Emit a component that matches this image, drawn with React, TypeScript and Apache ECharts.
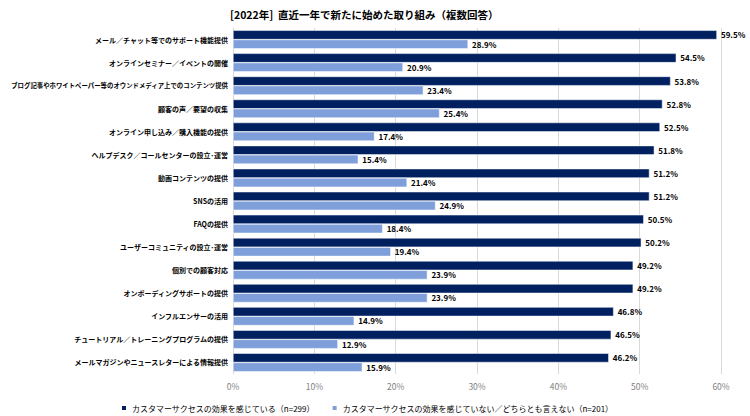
import React, { useEffect, useRef } from "react";
import * as echarts from "echarts";

const categories = [
  "メール／チャット等でのサポート機能提供",
  "オンラインセミナー／イベントの開催",
  "ブログ記事やホワイトペーパー等のオウンドメディア上でのコンテンツ提供",
  "顧客の声／要望の収集",
  "オンライン申し込み／購入機能の提供",
  "ヘルプデスク／コールセンターの設立･運営",
  "動画コンテンツの提供",
  "SNSの活用",
  "FAQの提供",
  "ユーザーコミュニティの設立･運営",
  "個別での顧客対応",
  "オンボーディングサポートの提供",
  "インフルエンサーの活用",
  "チュートリアル／トレーニングプログラムの提供",
  "メールマガジンやニュースレターによる情報提供",
];
const seriesNames = [
  "カスタマーサクセスの効果を感じている（n=299）",
  "カスタマーサクセスの効果を感じていない／どちらとも言えない（n=201）",
];
const feelValues = [59.5, 54.5, 53.8, 52.8, 52.5, 51.8, 51.2, 51.2, 50.5, 50.2, 49.2, 49.2, 46.8, 46.5, 46.2];
const notFeelValues = [28.9, 20.9, 23.4, 25.4, 17.4, 15.4, 21.4, 24.9, 18.4, 19.4, 23.9, 23.9, 14.9, 12.9, 15.9];
const titleText = "[2022年]  直近一年で新たに始めた取り組み（複数回答）";

const FONT = "'Noto Sans CJK JP', 'Noto Sans', sans-serif";

export default function App() {
  const ref = useRef<HTMLDivElement>(null);
  useEffect(() => {
    if (!ref.current) return;
    const chart = echarts.init(ref.current, undefined, { renderer: "svg" });
    const labelStyle = {
      show: true,
      position: "right" as const,
      formatter: (p: any) => p.value.toFixed(1) + "%",
      color: "#000",
      fontSize: 8,
      fontWeight: "bold" as const,
      fontFamily: FONT,
      distance: 4,
    };
    const catData = categories.map((c) =>
      c.length > 25 ? { value: c, textStyle: { fontSize: 6.4 } } : c
    );
    chart.setOption({
      animation: false,
      textStyle: { fontFamily: FONT },
      title: {
        text: titleText,
        left: 225,
        top: 4,
        textStyle: { fontSize: 10.5, fontWeight: "bold", color: "#000", fontFamily: FONT },
      },
      legend: {
        top: 404,
        left: 120,
        itemWidth: 6,
        itemHeight: 6,
        itemGap: 16,
        icon: "rect",
        padding: 0,
        textStyle: { fontSize: 8, color: "#000", fontFamily: FONT },
        data: seriesNames,
      },
      grid: { left: 233, right: 29, top: 28, bottom: 42, containLabel: false, outerBoundsMode: "none" },
      xAxis: {
        type: "value",
        min: 0,
        max: 60,
        interval: 10,
        axisLabel: { formatter: "{value}%", color: "#7f7f7f", fontSize: 8.5, margin: 8, fontFamily: FONT },
        splitLine: { show: true, lineStyle: { color: "#d9d9d9", width: 1 } },
        axisLine: { show: false },
        axisTick: { show: false },
      },
      yAxis: {
        type: "category",
        inverse: true,
        data: catData,
        axisLabel: { color: "#000", fontSize: 7, fontWeight: "bold", margin: 5, fontFamily: FONT },
        axisLine: { show: true, lineStyle: { color: "#d9d9d9" } },
        axisTick: { show: false },
      },
      series: [
        {
          name: seriesNames[0],
          type: "bar",
          data: feelValues,
          barGap: "0%",
          barCategoryGap: "20%",
          itemStyle: { color: "#002060", borderColor: "#ffffff", borderWidth: 0.5 },
          label: labelStyle,
        },
        {
          name: seriesNames[1],
          type: "bar",
          data: notFeelValues,
          itemStyle: { color: "#7f9fdb", borderColor: "#ffffff", borderWidth: 0.5 },
          label: labelStyle,
        },
      ],
    });
    return () => chart.dispose();
  }, []);
  return (
    <div
      ref={ref}
      style={{ position: "absolute", left: 0, top: 0, width: 750, height: 416 }}
    />
  );
}
